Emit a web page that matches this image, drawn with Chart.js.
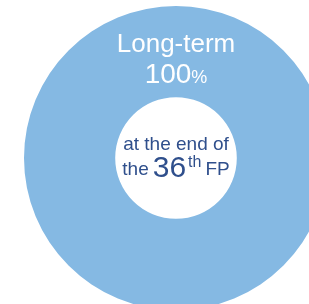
<!DOCTYPE html>
<html>
<head>
<meta charset="utf-8">
<script src="https://cdn.jsdelivr.net/npm/chart.js@4/dist/chart.umd.min.js"></script>
<style>
  html, body { margin: 0; padding: 0; background: #fff; overflow: hidden; }
  #wrap { position: absolute; left: 0; top: 0; width: 352px; height: 316px; }
</style>
</head>
<body>
<div id="wrap"><canvas id="donutChart"></canvas></div>
<script>
// Chart data
const categories = ['Long-term'];
const shares = [100];
const centerLine1 = 'at the end of';
const centerPeriod = '36';

// Draw the labels on the ring and in the hole
const textPlugin = {
    id: 'donutText',
    afterDraw(chart) {
        const ctx = chart.ctx;
        const arc = chart.getDatasetMeta(0).data[0];
        const cx = arc.x, cy = arc.y;
        const font = 'Liberation Sans, Arial, sans-serif';
        ctx.save();

        // segment label
        ctx.fillStyle = '#ffffff';
        ctx.textBaseline = 'alphabetic';
        ctx.textAlign = 'center';
        ctx.font = '26px ' + font;
        ctx.fillText(categories[0], cx, cy - 106);
        ctx.textAlign = 'left';
        ctx.font = '28px ' + font;
        const num = String(shares[0]);
        const wNum = ctx.measureText(num).width;
        ctx.font = '18px ' + font;
        const wPct = ctx.measureText('%').width;
        let x = cx - (wNum + wPct) / 2;
        ctx.font = '28px ' + font;
        ctx.fillText(num, x, cy - 75);
        ctx.font = '18px ' + font;
        ctx.fillText('%', x + wNum, cy - 75);

        // center text
        ctx.fillStyle = '#2f4f8c';
        ctx.textAlign = 'center';
        ctx.font = '19px ' + font;
        ctx.fillText(centerLine1, cx, cy - 8);

        ctx.textAlign = 'left';
        ctx.font = '19px ' + font;
        const wThe = ctx.measureText('the').width;
        const wFP = ctx.measureText('FP').width;
        ctx.font = '30px ' + font;
        const w36 = ctx.measureText(centerPeriod).width;
        ctx.font = '16px ' + font;
        const wTh = ctx.measureText('th').width;
        const gap = 4;
        const total = wThe + gap + w36 + 2 + wTh + gap + wFP;
        x = cx - total / 2;
        const base = cy + 17;
        ctx.font = '19px ' + font;
        ctx.fillText('the', x, base);
        x += wThe + gap;
        ctx.font = '30px ' + font;
        ctx.fillText(centerPeriod, x, base + 2);
        x += w36 + 2;
        ctx.font = '16px ' + font;
        ctx.fillText('th', x, base - 8);
        x += wTh + gap;
        ctx.font = '19px ' + font;
        ctx.fillText('FP', x, base);
        ctx.restore();
    }
};

const ctx = document.getElementById('donutChart').getContext('2d');
new Chart(ctx, {
    type: 'doughnut',
    data: {
        labels: categories,
        datasets: [{
            data: shares,
            backgroundColor: ['#85b9e3'],
            borderWidth: 0
        }]
    },
    options: {
        responsive: true,
        maintainAspectRatio: false,
        animation: false,
        cutout: '40%',
        layout: { padding: 6 },
        plugins: {
            legend: { display: false },
            tooltip: { enabled: false }
        }
    },
    plugins: [textPlugin]
});
</script>
</body>
</html>
